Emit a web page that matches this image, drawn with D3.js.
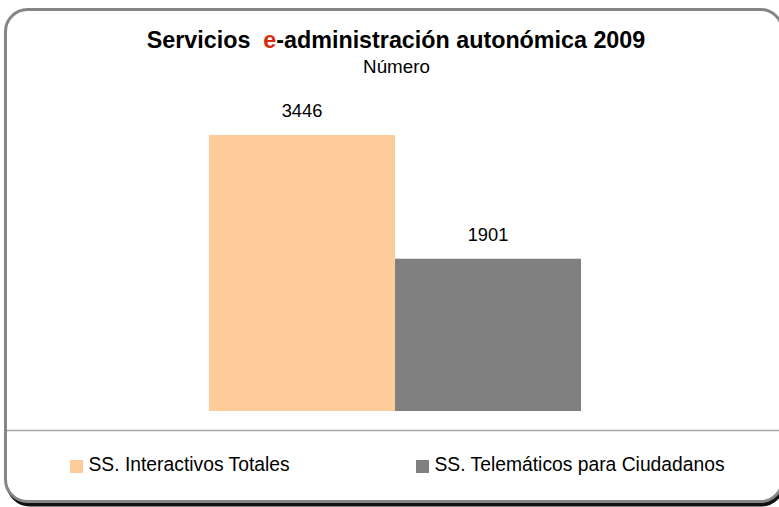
<!DOCTYPE html>
<html><head><meta charset="utf-8">
<script src="https://cdn.jsdelivr.net/npm/d3@7"></script>
<style>body{margin:0;background:#fff}svg{display:block}text{font-family:"Liberation Sans",Arial,sans-serif}</style>
</head><body><svg id="c" width="779" height="507"></svg>
<script>
const categories = ["SS. Interactivos Totales", "SS. Telemáticos para Ciudadanos"];
const values = [3446, 1901];
const colors = ["#FECC99", "#808080"];

const svg = d3.select("#c");
// frame
svg.append("rect").attr("x",8).attr("y",13).attr("width",775).attr("height",491.5).attr("rx",22)
  .attr("fill","none").attr("stroke","#111").attr("stroke-width",4);
svg.append("rect").attr("x",5.5).attr("y",9.5).attr("width",777).attr("height",492).attr("rx",22)
  .attr("fill","#fff").attr("stroke","#858585").attr("stroke-width",3);
svg.append("line").attr("x1",7).attr("x2",779).attr("y1",430.5).attr("y2",430.5)
  .attr("stroke","#a6a6a6").attr("stroke-width",1.5);

// title
const t = svg.append("text").attr("x",396).attr("y",47.5).attr("text-anchor","middle")
  .attr("font-weight","bold").attr("font-size",23.3).attr("fill","#000");
t.append("tspan").text("Servicios\u00a0 ");
t.append("tspan").attr("fill","#D52B0B").text("e");
t.append("tspan").text("-administración autonómica 2009");
svg.append("text").attr("x",396.5).attr("y",73.3).attr("text-anchor","middle")
  .attr("font-size",18.8).text("Número");

const x = d3.scaleBand().domain(categories).range([209, 581]).paddingInner(0).paddingOuter(0);
const y = d3.scaleLinear().domain([0, 4000]).range([411, 90.6]);

svg.selectAll("rect.bar").data(values).join("rect").attr("class","bar")
  .attr("x",(d,i)=>x(categories[i])).attr("width",x.bandwidth())
  .attr("y",d=>y(d)).attr("height",d=>y(0)-y(d)).attr("fill",(d,i)=>colors[i]);

svg.selectAll("text.lbl").data(values).join("text").attr("class","lbl")
  .attr("x",(d,i)=>x(categories[i])+x.bandwidth()/2).attr("y",d=>y(d)-17.5)
  .attr("text-anchor","middle").attr("font-size",18.3).text(d=>d);

// legend
const legX = [70, 416];
const lg = svg.selectAll("g.leg").data(categories).join("g").attr("class","leg")
  .attr("transform",(d,i)=>`translate(${legX[i]},0)`);
lg.append("rect").attr("x",0).attr("y",460).attr("width",13).attr("height",13).attr("fill",(d,i)=>colors[i]);
lg.append("text").attr("x",18.5).attr("y",470.7).attr("font-size",19.3).text(d=>d);
</script></body></html>
